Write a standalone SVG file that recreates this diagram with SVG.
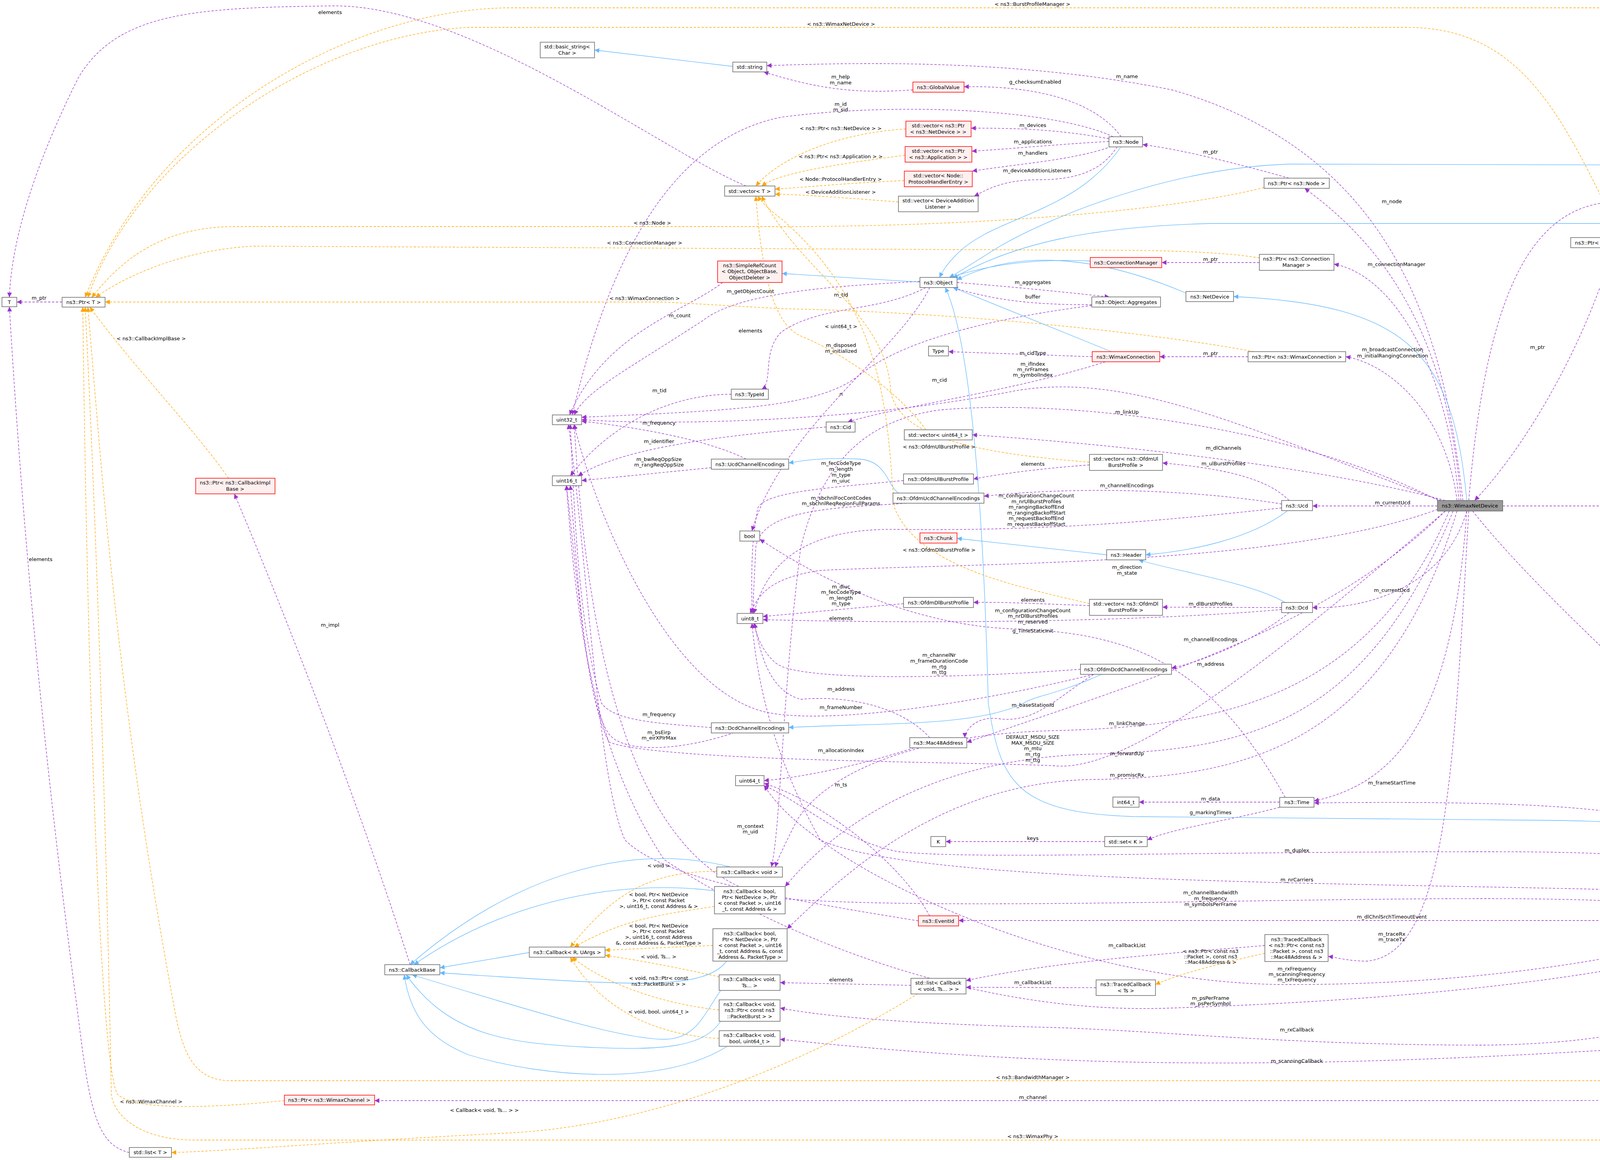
<svg xmlns="http://www.w3.org/2000/svg" width="4955" height="2969" viewBox="0 0 4955 2969">
<style>
.n rect{fill:#fff;stroke:#666;stroke-width:1.5}
.r rect{fill:#fff0f0;stroke:#f00;stroke-width:1.5}
.g rect{fill:#999;stroke:#666;stroke-width:1.5}
text{font-family:"DejaVu Sans","Liberation Sans",sans-serif;font-size:13px;fill:#000;text-anchor:middle}
.p{fill:none;stroke:#9a32cd;stroke-width:1.3;stroke-dasharray:6,4;marker-end:url(#ap)}
.o{fill:none;stroke:#ffa500;stroke-width:1.3;stroke-dasharray:6,4;marker-end:url(#ao)}
.b{fill:none;stroke:#63b8ff;stroke-width:1.3;marker-end:url(#ab)}
</style>
<defs>
<marker id="ap" viewBox="0 0 10 10" refX="10" refY="5" markerWidth="14" markerHeight="12" markerUnits="userSpaceOnUse" orient="auto"><path d="M0,0L10,5L0,10z" fill="#9a32cd"/></marker>
<marker id="ao" viewBox="0 0 10 10" refX="10" refY="5" markerWidth="14" markerHeight="12" markerUnits="userSpaceOnUse" orient="auto"><path d="M0,0L10,5L0,10z" fill="#ffa500"/></marker>
<marker id="ab" viewBox="0 0 10 10" refX="10" refY="5" markerWidth="14" markerHeight="12" markerUnits="userSpaceOnUse" orient="auto"><path d="M0,0L10,5L0,10z" fill="#63b8ff"/></marker>
</defs>
<rect width="4955" height="2969" fill="#fff"/>
<g id="edges">
<path class="p" d="M159,773L43,773"/>
<path class="p" d="M1910,476C1700,390 1200,10 850,15C500,20 300,30 200,200C100,400 30,600 24,761"/>
<path class="p" d="M331,2950C250,2930 230,2850 200,2600C120,2000 60,1400 24,785"/>
<path class="p" d="M2337,230C2200,240 2100,230 1955,184"/>
<path class="p" d="M2870,350C2820,280 2700,218 2468,222"/>
<path class="p" d="M3745,1281C3700,900 3600,400 3000,230C2600,150 2200,160 1963,168"/>
<path class="p" d="M2839,355C2700,330 2600,328 2486,328"/>
<path class="p" d="M2839,362C2700,370 2600,380 2488,387"/>
<path class="p" d="M2845,375C2750,410 2600,420 2489,438"/>
<path class="p" d="M2860,375C2820,440 2750,460 2660,460C2560,460 2520,490 2494,502"/>
<path class="p" d="M2850,350C2700,280 2300,260 2000,300C1700,360 1550,700 1465,1062"/>
<path class="p" d="M3300,456C3100,400 3000,380 2925,370"/>
<path class="p" d="M3740,1281C3700,800 3500,600 3340,482"/>
<path class="p" d="M3735,1281C3700,900 3550,700 3415,676"/>
<path class="p" d="M3224,672L2974,672"/>
<path class="p" d="M3730,1281C3700,1050 3550,930 3445,913"/>
<path class="p" d="M3195,913L2969,913"/>
<path class="p" d="M3760,1281C3800,800 3900,550 4100,520C4400,480 4600,440 4752,424"/>
<path class="p" d="M4752,424L4656,424"/>
<path class="p" d="M4545,436C4500,520 4350,590 4215,608"/>
<path class="p" d="M4475,646C4400,640 4330,625 4268,621"/>
<path class="p" d="M4130,634C4050,900 3900,1150 3775,1281"/>
<path class="p" d="M4540,2342C4500,1800 4300,900 4155,634"/>
<path class="p" d="M3847,1295L4754,1295"/>
<path class="p" d="M4835,1275C4800,1000 4650,800 4575,662"/>
<path class="p" d="M3680,1295L3360,1295"/>
<path class="p" d="M3755,1308C3700,1500 3500,1560 3360,1555"/>
<path class="p" d="M3770,1308C4000,1600 4600,2100 4830,2342"/>
<path class="p" d="M4746,2355L4626,2355"/>
<path class="p" d="M3300,1281C3250,1230 3150,1200 2976,1185"/>
<path class="p" d="M3700,1281C3400,1200 2900,1140 2489,1113"/>
<path class="p" d="M3281,1290C3100,1260 2800,1240 2519,1270"/>
<path class="p" d="M3281,1300C3000,1330 2700,1360 2300,1355C2050,1350 1960,1450 1930,1570"/>
<path class="p" d="M3700,1285C3200,1100 2900,950 2600,1000C2200,1080 1700,1090 1489,1074"/>
<path class="p" d="M2796,913L2428,900"/>
<path class="p" d="M2830,926C2600,1000 2300,1040 2170,1080"/>
<path class="p" d="M2450,723C2600,735 2700,745 2840,760"/>
<path class="p" d="M2795,780C2650,780 2550,770 2440,736"/>
<path class="p" d="M2795,782C2500,820 2300,880 2200,960C2100,1040 1900,1050 1489,1068"/>
<path class="p" d="M2370,736C2250,800 2100,780 2000,850C1950,900 1980,980 1950,996"/>
<path class="p" d="M2380,736C2300,900 2000,1100 1925,1359"/>
<path class="p" d="M1850,723C1750,800 1550,850 1458,1062"/>
<path class="p" d="M2355,720C2200,730 1900,740 1800,820C1600,950 1500,1000 1470,1062"/>
<path class="p" d="M1872,1009C1700,1010 1550,1100 1460,1218"/>
<path class="p" d="M1910,1175C1800,1120 1600,1090 1489,1078"/>
<path class="p" d="M2115,1093C1900,1110 1600,1140 1480,1218"/>
<path class="p" d="M1821,1197L1489,1230"/>
<path class="p" d="M2789,1190C2650,1200 2550,1215 2492,1226"/>
<path class="p" d="M2313,1230C2100,1250 1960,1260 1940,1300C1920,1400 1925,1500 1925,1570"/>
<path class="p" d="M2320,1288C2150,1300 1950,1300 1935,1400C1930,1500 1928,1530 1928,1570"/>
<path class="p" d="M3690,1300C3300,1450 2500,1440 2100,1460C1960,1480 1940,1530 1920,1570"/>
<path class="p" d="M3281,1555L2976,1554"/>
<path class="p" d="M2789,1550C2650,1545 2550,1540 2492,1542"/>
<path class="p" d="M2313,1545L1953,1578"/>
<path class="p" d="M3281,1560C3000,1585 2500,1600 1953,1586"/>
<path class="p" d="M3290,2041C3100,1700 2900,1620 2600,1610C2300,1600 2050,1450 1945,1380"/>
<path class="p" d="M3300,1568C3200,1650 3050,1700 2999,1710"/>
<path class="p" d="M2766,1713C2400,1740 2050,1740 1990,1700C1950,1670 1935,1620 1930,1595"/>
<path class="p" d="M2800,1726C2500,1800 2100,1860 1950,1820C1700,1750 1520,1300 1470,1086"/>
<path class="p" d="M2800,1726C2700,1790 2650,1850 2560,1840C2500,1830 2470,1870 2470,1888"/>
<path class="p" d="M3700,1308C3400,1600 3000,1720 2475,1900"/>
<path class="p" d="M2380,1888C2300,1800 2150,1780 2050,1790C1980,1770 1950,1700 1932,1595"/>
<path class="p" d="M1821,1862C1650,1850 1570,1840 1540,1800C1480,1600 1470,1300 1460,1086"/>
<path class="p" d="M1880,1875C1750,1920 1600,1930 1560,1880C1500,1800 1480,1500 1460,1242"/>
<path class="p" d="M3700,1308C3300,1650 2900,1980 2700,1960C2500,1950 1700,1950 1560,1900C1500,1800 1470,1400 1450,1242"/>
<path class="p" d="M2340,1914C2200,1960 2050,1990 1956,1998"/>
<path class="p" d="M2380,2344C2300,2200 2100,2050 1956,2005"/>
<path class="p" d="M2351,2357C2000,2300 1700,2250 1600,2150C1530,2000 1500,1400 1455,1086"/>
<path class="p" d="M3700,1290C3300,1080 2700,1020 2400,1050C2200,1080 2100,1200 2050,1400C2000,1800 2000,2100 1975,2219"/>
<path class="p" d="M3710,1308C3500,1800 3100,1860 2700,1870C2300,1880 2100,2000 2040,2100C2010,2160 1990,2200 1985,2219"/>
<path class="p" d="M3720,1308C3500,1850 3200,1920 2800,1930C2400,1940 2150,2100 2010,2269"/>
<path class="p" d="M3730,1308C3550,1900 3200,1990 2800,1995C2400,2000 2150,2250 2015,2377"/>
<path class="p" d="M3755,1308C3720,1800 3600,2000 3364,2050"/>
<path class="p" d="M4540,2342C4450,2100 4300,2045 3364,2055"/>
<path class="p" d="M3276,2053L2916,2053"/>
<path class="p" d="M3276,2066C3150,2100 3000,2120 2937,2150"/>
<path class="p" d="M2828,2154L2421,2154"/>
<path class="p" d="M4520,2342C4400,2200 4300,2180 3800,2180C3000,2180 2500,2200 2300,2180C2150,2150 2050,2050 1956,2011"/>
<path class="p" d="M4520,2342C4450,2280 4300,2280 3800,2270C3000,2255 2300,2240 2100,2150C1960,1900 1935,1700 1925,1595"/>
<path class="p" d="M4502,2350C4400,2320 4200,2300 3800,2300C3200,2300 2400,2330 2000,2300C1600,2250 1500,1600 1470,1086"/>
<path class="p" d="M4502,2356L2454,2356"/>
<path class="p" d="M3760,1308C3720,2000 3700,2440 3500,2460C3450,2460 3420,2450 3400,2448"/>
<path class="p" d="M4502,2362C4300,2420 3900,2520 3300,2520C2800,2520 2300,2300 2100,2150C2000,2080 1970,2030 1956,2011"/>
<path class="p" d="M4530,2367C4400,2450 3900,2550 3000,2580C2500,2600 2000,2400 1700,2200C1500,1900 1470,1500 1450,1242"/>
<path class="p" d="M4560,2367C4500,2550 4300,2670 3800,2675C3300,2675 3000,2640 2700,2630C2300,2620 2100,2600 1997,2580"/>
<path class="p" d="M4570,2367C4550,2600 4400,2670 4250,2680C3900,2700 3500,2725 3000,2720C2500,2715 2100,2670 1997,2660"/>
<path class="p" d="M4590,2367C4560,2650 4400,2800 4185,2775"/>
<path class="p" d="M4580,2367C4560,2700 4450,2850 4300,2820C4200,2815 4100,2817 3900,2817L959,2817"/>
<path class="p" d="M2806,2528L2473,2527"/>
<path class="p" d="M3238,2420C3000,2440 2700,2460 2473,2510"/>
<path class="p" d="M2332,2522L1997,2515"/>
<path class="p" d="M1050,2469C900,2000 700,1500 600,1264"/>
<path class="o" d="M4848,404C4830,200 4800,20 4600,20L1300,20C900,25 400,300 218,761"/>
<path class="o" d="M4150,608C4000,300 3900,70 3600,70L1200,70C800,90 350,400 225,761"/>
<path class="o" d="M3236,480C3000,540 2500,580 2000,580L600,580C400,580 300,680 235,761"/>
<path class="o" d="M3224,660C3100,640 2900,640 2700,640L650,630C450,640 300,720 245,761"/>
<path class="o" d="M3210,900C3000,860 2500,800 2000,790L1700,773L269,773"/>
<path class="o" d="M585,1224C500,1100 350,950 230,786"/>
<path class="o" d="M728,2817C600,2830 350,2850 300,2800C250,2700 220,1500 212,786"/>
<path class="o" d="M4830,1315C4700,1800 4500,2700 4300,2766L590,2766C500,2766 470,2700 450,2600C300,1800 260,1200 225,786"/>
<path class="o" d="M4845,2367C4830,2600 4760,2918 4580,2918L500,2918C350,2918 290,2850 285,2800C270,2000 240,1200 218,786"/>
<path class="o" d="M2319,330C2150,340 2000,400 1935,476"/>
<path class="o" d="M2317,397C2150,420 2000,440 1950,476"/>
<path class="o" d="M2315,462C2150,470 2050,480 1984,484"/>
<path class="o" d="M2300,517C2150,505 2050,498 1984,497"/>
<path class="o" d="M2370,1100C2300,1000 2150,900 2050,860C1980,830 1950,700 1935,502"/>
<path class="o" d="M2789,1183C2500,1160 2300,1120 2280,1000C2270,800 2050,700 1950,502"/>
<path class="o" d="M2789,1545C2600,1500 2350,1450 2290,1300C2270,1100 2280,800 2000,560C1960,530 1945,510 1940,502"/>
<path class="o" d="M2350,2543C2100,2700 1700,2880 1300,2900C900,2920 600,2945 439,2950"/>
<path class="o" d="M3238,2440C3100,2470 3000,2500 2958,2520"/>
<path class="o" d="M1835,2230C1650,2230 1560,2300 1460,2424"/>
<path class="o" d="M1829,2320C1700,2340 1600,2350 1470,2424"/>
<path class="o" d="M1825,2420C1700,2425 1600,2430 1549,2432"/>
<path class="o" d="M1841,2500C1750,2480 1650,2460 1549,2445"/>
<path class="o" d="M1841,2585C1700,2570 1550,2520 1465,2450"/>
<path class="o" d="M1841,2658C1700,2650 1550,2600 1460,2450"/>
<path class="b" d="M1876,170L1522,128"/>
<path class="b" d="M2870,375C2750,550 2550,550 2450,650C2420,680 2410,700 2405,710"/>
<path class="b" d="M2791,668C2600,660 2500,690 2430,710"/>
<path class="b" d="M2845,900L2440,736"/>
<path class="b" d="M4473,423C3800,418 3500,418 3300,420C3000,430 2700,550 2560,630C2480,680 2450,700 2430,710"/>
<path class="b" d="M4540,636C4480,600 4400,572 4200,572L3100,572C2800,580 2600,620 2440,712"/>
<path class="b" d="M3036,750C2800,650 2600,640 2450,716"/>
<path class="b" d="M2355,722L2002,700"/>
<path class="b" d="M2833,1420L2450,1378"/>
<path class="b" d="M3295,1308C3200,1380 3050,1410 2933,1420"/>
<path class="b" d="M3290,1542C3200,1490 3000,1460 2915,1433"/>
<path class="b" d="M2300,1262C2270,1240 2270,1180 2200,1175C2100,1170 2050,1180 2019,1185"/>
<path class="b" d="M2820,1726C2700,1780 2650,1780 2620,1800C2500,1860 2250,1850 2019,1862"/>
<path class="b" d="M3755,1281C3720,900 3600,780 3158,759"/>
<path class="b" d="M4560,2342C4500,2120 4400,2110 4000,2100L2900,2090C2600,2080 2560,2000 2530,1800C2510,1000 2450,800 2420,736"/>
<path class="b" d="M1355,2438L1126,2477"/>
<path class="b" d="M1870,2219C1600,2150 1300,2250 1050,2469"/>
<path class="b" d="M1829,2280C1600,2250 1300,2300 1060,2469"/>
<path class="b" d="M1860,2460C1800,2540 1600,2520 1126,2490"/>
<path class="b" d="M1845,2535C1800,2600 1780,2660 1700,2660C1600,2660 1400,2600 1055,2495"/>
<path class="b" d="M1845,2614C1800,2680 1700,2690 1500,2680C1300,2670 1150,2650 1040,2495"/>
<path class="b" d="M1860,2679C1700,2780 1400,2760 1200,2700C1100,2660 1050,2600 1035,2495"/>
</g>
<g id="labels">
<text x="100" y="767">m_ptr</text>
<text x="845" y="36">elements</text>
<text x="104" y="1436">elements</text>
<text x="2152" y="201">m_help</text><text x="2152" y="216">m_name</text>
<text x="2650" y="214">g_checksumEnabled</text>
<text x="2885" y="200">m_name</text>
<text x="2152" y="271">m_id</text><text x="2152" y="285">m_sid</text>
<text x="2644" y="325">m_devices</text>
<text x="2644" y="367">m_applications</text>
<text x="2644" y="396">m_handlers</text>
<text x="2655" y="441">m_deviceAdditionListeners</text>
<text x="3099" y="393">m_ptr</text>
<text x="3563" y="520">m_node</text>
<text x="4373" y="478">m_burstProfileManager</text>
<text x="4373" y="521">m_device</text>
<text x="4704" y="419">m_ptr</text>
<text x="4373" y="621">m_device</text>
<text x="3575" y="681">m_connectionManager</text>
<text x="3099" y="668">m_ptr</text>
<text x="3565" y="899">m_broadcastConnection</text><text x="3565" y="915">m_initialRangingConnection</text>
<text x="3099" y="909">m_ptr</text>
<text x="3936" y="893">m_ptr</text>
<text x="4373" y="890">m_device</text>
<text x="4704" y="909">m_ptr</text>
<text x="3132" y="1151">m_dlChannels</text>
<text x="3132" y="1191">m_ulBurstProfiles</text>
<text x="3565" y="1291">m_currentUcd</text>
<text x="4373" y="1291">m_bandwidthManager</text>
<text x="3563" y="1515">m_currentDcd</text>
<text x="3099" y="1550">m_dlBurstProfiles</text>
<text x="3099" y="1641">m_channelEncodings</text>
<text x="3099" y="1704">m_address</text>
<text x="4373" y="1808">m_phy</text>
<text x="3563" y="2008">m_frameStartTime</text>
<text x="4248" y="2011">m_frameDuration</text><text x="4248" y="2025">m_psDuration</text><text x="4248" y="2040">m_symbolDuration</text>
<text x="3099" y="2049">m_data</text>
<text x="3099" y="2084">g_markingTimes</text>
<text x="3320" y="2181">m_duplex</text>
<text x="3320" y="2256">m_nrCarriers</text>
<text x="3099" y="2289">m_channelBandwidth</text><text x="3099" y="2304">m_frequency</text><text x="3099" y="2319">m_symbolsPerFrame</text>
<text x="3563" y="2351">m_dlChnlSrchTimeoutEvent</text>
<text x="4704" y="2351">m_ptr</text>
<text x="3563" y="2395">m_traceRx</text><text x="3563" y="2409">m_traceTx</text>
<text x="3099" y="2439">&lt; ns3::Ptr&lt; const ns3</text><text x="3099" y="2453">::Packet &gt;, const ns3</text><text x="3099" y="2467">::Mac48Address &amp; &gt;</text>
<text x="3320" y="2484">m_rxFrequency</text><text x="3320" y="2498">m_scanningFrequency</text><text x="3320" y="2512">m_txFrequency</text>
<text x="3099" y="2559">m_psPerFrame</text><text x="3099" y="2573">m_psPerSymbol</text>
<text x="3320" y="2640">m_rxCallback</text>
<text x="3320" y="2720">m_scanningCallback</text>
<text x="4373" y="2745">m_state</text>
<text x="2644" y="2813">m_channel</text>
<text x="2643" y="15">&lt; ns3::BurstProfileManager &gt;</text>
<text x="2153" y="66">&lt; ns3::WimaxNetDevice &gt;</text>
<text x="1670" y="575">&lt; ns3::Node &gt;</text>
<text x="1650" y="626">&lt; ns3::ConnectionManager &gt;</text>
<text x="1650" y="768">&lt; ns3::WimaxConnection &gt;</text>
<text x="387" y="871">&lt; ns3::CallbackImplBase &gt;</text>
<text x="387" y="2824">&lt; ns3::WimaxChannel &gt;</text>
<text x="2644" y="2762">&lt; ns3::BandwidthManager &gt;</text>
<text x="2644" y="2913">&lt; ns3::WimaxPhy &gt;</text>
<text x="1240" y="2846">&lt; Callback&lt; void, Ts... &gt; &gt;</text>
<text x="2152" y="333">&lt; ns3::Ptr&lt; ns3::NetDevice &gt; &gt;</text>
<text x="2152" y="405">&lt; ns3::Ptr&lt; ns3::Application &gt; &gt;</text>
<text x="2152" y="463">&lt; Node::ProtocolHandlerEntry &gt;</text>
<text x="2152" y="496">&lt; DeviceAdditionListener &gt;</text>
<text x="2153" y="840">&lt; uint64_t &gt;</text>
<text x="2404" y="1148">&lt; ns3::OfdmUlBurstProfile &gt;</text>
<text x="2404" y="1412">&lt; ns3::OfdmDlBurstProfile &gt;</text>
<text x="1921" y="750">m_getObjectCount</text>
<text x="2153" y="759">m_tid</text>
<text x="1740" y="812">m_count</text>
<text x="1921" y="851">elements</text>
<text x="2153" y="888">m_disposed</text><text x="2153" y="903">m_initialized</text>
<text x="2644" y="727">m_aggregates</text>
<text x="2644" y="764">buffer</text>
<text x="2644" y="908">m_cidType</text>
<text x="2644" y="936">m_ifIndex</text><text x="2644" y="950">m_nrFrames</text><text x="2644" y="964">m_symbolIndex</text>
<text x="2405" y="977">m_cid</text>
<text x="2153" y="1013">n</text>
<text x="2885" y="1059">m_linkUp</text>
<text x="1688" y="1004">m_tid</text>
<text x="1687" y="1087">m_frequency</text>
<text x="1687" y="1134">m_identifier</text>
<text x="1687" y="1180">m_bwReqOppSize</text><text x="1687" y="1194">m_rangReqOppSize</text>
<text x="2644" y="1192">elements</text>
<text x="2153" y="1190">m_fecCodeType</text><text x="2153" y="1205">m_length</text><text x="2153" y="1220">m_type</text><text x="2153" y="1235">m_uiuc</text>
<text x="2153" y="1279">m_sbchnlFocContCodes</text><text x="2153" y="1293">m_sbchnlReqRegionFullParams</text>
<text x="2885" y="1247">m_channelEncodings</text>
<text x="2653" y="1273">m_configurationChangeCount</text><text x="2653" y="1288">m_nrUlBurstProfiles</text><text x="2653" y="1302">m_rangingBackoffEnd</text><text x="2653" y="1317">m_rangingBackoffStart</text><text x="2653" y="1331">m_requestBackoffEnd</text><text x="2653" y="1346">m_requestBackoffStart</text>
<text x="2885" y="1456">m_direction</text><text x="2885" y="1471">m_state</text>
<text x="2153" y="1506">m_diuc</text><text x="2153" y="1520">m_fecCodeType</text><text x="2153" y="1535">m_length</text><text x="2153" y="1549">m_type</text>
<text x="2644" y="1540">elements</text>
<text x="2644" y="1567">m_configurationChangeCount</text><text x="2644" y="1581">m_nrDlBurstProfiles</text><text x="2644" y="1596">m_reserved</text>
<text x="2153" y="1587">elements</text>
<text x="2644" y="1619">g_TimeStaticInit</text>
<text x="2404" y="1681">m_channelNr</text><text x="2404" y="1696">m_frameDurationCode</text><text x="2404" y="1711">m_rtg</text><text x="2404" y="1725">m_ttg</text>
<text x="2153" y="1768">m_address</text>
<text x="2153" y="1815">m_frameNumber</text>
<text x="2644" y="1809">m_baseStationId</text>
<text x="2885" y="1856">m_linkChange</text>
<text x="1687" y="1833">m_frequency</text>
<text x="1687" y="1879">m_bsEirp</text><text x="1687" y="1893">m_eirXPIrMax</text>
<text x="2644" y="1891">DEFAULT_MSDU_SIZE</text><text x="2644" y="1906">MAX_MSDU_SIZE</text><text x="2644" y="1920">m_mtu</text><text x="2644" y="1935">m_rtg</text><text x="2644" y="1950">m_ttg</text>
<text x="2153" y="1925">m_allocationIndex</text>
<text x="2885" y="1933">m_forwardUp</text>
<text x="2885" y="1988">m_promiscRx</text>
<text x="2153" y="2013">m_ts</text>
<text x="1921" y="2119">m_context</text><text x="1921" y="2133">m_uid</text>
<text x="2644" y="2150">keys</text>
<text x="845" y="1604">m_impl</text>
<text x="1686" y="2220">&lt; void &gt;</text>
<text x="1686" y="2294">&lt; bool, Ptr&lt; NetDevice</text><text x="1686" y="2309">&gt;, Ptr&lt; const Packet</text><text x="1686" y="2324">&gt;, uint16_t, const Address &amp; &gt;</text>
<text x="1686" y="2374">&lt; bool, Ptr&lt; NetDevice</text><text x="1686" y="2388">&gt;, Ptr&lt; const Packet</text><text x="1686" y="2403">&gt;, uint16_t, const Address</text><text x="1686" y="2418">&amp;, const Address &amp;, PacketType &gt;</text>
<text x="1686" y="2453">&lt; void, Ts... &gt;</text>
<text x="1686" y="2508">&lt; void, ns3::Ptr&lt; const</text><text x="1686" y="2523">ns3::PacketBurst &gt; &gt;</text>
<text x="1686" y="2594">&lt; void, bool, uint64_t &gt;</text>
<text x="2153" y="2512">elements</text>
<text x="2644" y="2519">m_callbackList</text>
<text x="2885" y="2424">m_callbackList</text>
</g>
<g id="n_T" class="n"><rect x="5" y="761" width="38" height="24"/><text x="24" y="778">T</text></g>
<g id="n_PtrT" class="n"><rect x="159" y="761" width="110" height="25"/><text x="214" y="778">ns3::Ptr&lt; T &gt;</text></g>
<g id="n_basicstr" class="n"><rect x="1383" y="108" width="139" height="40"/><text x="1452" y="124">std::basic_string&lt;</text><text x="1452" y="140">Char &gt;</text></g>
<g id="n_string" class="n"><rect x="1876" y="159" width="87" height="25"/><text x="1919" y="176">std::string</text></g>
<g id="n_GlobalValue" class="r"><rect x="2337" y="210" width="131" height="26"/><text x="2402" y="228">ns3::GlobalValue</text></g>
<g id="n_Node" class="n"><rect x="2839" y="350" width="86" height="26"/><text x="2882" y="368">ns3::Node</text></g>
<g id="n_vecNetDev" class="r"><rect x="2319" y="310" width="167" height="40"/><text x="2402" y="326">std::vector&lt; ns3::Ptr</text><text x="2402" y="342">&lt; ns3::NetDevice &gt; &gt;</text></g>
<g id="n_vecApp" class="r"><rect x="2317" y="375" width="171" height="40"/><text x="2402" y="391">std::vector&lt; ns3::Ptr</text><text x="2402" y="407">&lt; ns3::Application &gt; &gt;</text></g>
<g id="n_vecPHE" class="r"><rect x="2315" y="438" width="174" height="40"/><text x="2402" y="454">std::vector&lt; Node::</text><text x="2402" y="470">ProtocolHandlerEntry &gt;</text></g>
<g id="n_vecDAL" class="n"><rect x="2300" y="502" width="204" height="40"/><text x="2402" y="518">std::vector&lt; DeviceAddition</text><text x="2402" y="534">Listener &gt;</text></g>
<g id="n_vecT" class="n"><rect x="1855" y="476" width="129" height="26"/><text x="1919" y="494">std::vector&lt; T &gt;</text></g>
<g id="n_SimpleRefCount" class="r"><rect x="1837" y="668" width="165" height="55"/><text x="1919" y="684">ns3::SimpleRefCount</text><text x="1919" y="699">&lt; Object, ObjectBase,</text><text x="1919" y="715">ObjectDeleter &gt;</text></g>
<g id="n_ConnectionManager" class="r"><rect x="2791" y="659" width="183" height="26"/><text x="2882" y="677">ns3::ConnectionManager</text></g>
<g id="n_Object" class="n"><rect x="2355" y="710" width="95" height="26"/><text x="2402" y="728">ns3::Object</text></g>
<g id="n_Aggregates" class="n"><rect x="2795" y="760" width="176" height="26"/><text x="2883" y="778">ns3::Object::Aggregates</text></g>
<g id="n_Type" class="n"><rect x="2377" y="886" width="51" height="25"/><text x="2402" y="903">Type</text></g>
<g id="n_WimaxConnection" class="r"><rect x="2796" y="900" width="173" height="26"/><text x="2882" y="918">ns3::WimaxConnection</text></g>
<g id="n_TypeId" class="n"><rect x="1872" y="996" width="95" height="26"/><text x="1919" y="1014">ns3::TypeId</text></g>
<g id="n_Cid" class="n"><rect x="2115" y="1080" width="74" height="26"/><text x="2152" y="1098">ns3::Cid</text></g>
<g id="n_vecU64" class="n"><rect x="2315" y="1100" width="174" height="26"/><text x="2402" y="1118">std::vector&lt; uint64_t &gt;</text></g>
<g id="n_UcdCE" class="n"><rect x="1821" y="1175" width="198" height="26"/><text x="1920" y="1193">ns3::UcdChannelEncodings</text></g>
<g id="n_vecUl" class="n"><rect x="2789" y="1163" width="187" height="41"/><text x="2882" y="1179">std::vector&lt; ns3::OfdmUl</text><text x="2882" y="1195">BurstProfile &gt;</text></g>
<g id="n_OfdmUl" class="n"><rect x="2313" y="1213" width="179" height="26"/><text x="2402" y="1231">ns3::OfdmUlBurstProfile</text></g>
<g id="n_OfdmUcd" class="n"><rect x="2286" y="1262" width="233" height="26"/><text x="2402" y="1280">ns3::OfdmUcdChannelEncodings</text></g>
<g id="n_bool" class="n"><rect x="1894" y="1359" width="51" height="26"/><text x="1919" y="1377">bool</text></g>
<g id="n_Chunk" class="r"><rect x="2355" y="1364" width="95" height="26"/><text x="2402" y="1382">ns3::Chunk</text></g>
<g id="n_Header" class="n"><rect x="2833" y="1407" width="100" height="26"/><text x="2883" y="1425">ns3::Header</text></g>
<g id="n_OfdmDl" class="n"><rect x="2313" y="1529" width="179" height="26"/><text x="2402" y="1547">ns3::OfdmDlBurstProfile</text></g>
<g id="n_vecDl" class="n"><rect x="2789" y="1534" width="187" height="41"/><text x="2882" y="1550">std::vector&lt; ns3::OfdmDl</text><text x="2882" y="1566">BurstProfile &gt;</text></g>
<g id="n_uint8" class="n"><rect x="1887" y="1570" width="66" height="26"/><text x="1920" y="1588">uint8_t</text></g>
<g id="n_OfdmDcd" class="n"><rect x="2766" y="1700" width="233" height="26"/><text x="2882" y="1718">ns3::OfdmDcdChannelEncodings</text></g>
<g id="n_DcdCE" class="n"><rect x="1821" y="1850" width="198" height="26"/><text x="1920" y="1868">ns3::DcdChannelEncodings</text></g>
<g id="n_Mac48" class="n"><rect x="2329" y="1888" width="146" height="26"/><text x="2402" y="1906">ns3::Mac48Address</text></g>
<g id="n_uint64" class="n"><rect x="1883" y="1985" width="73" height="26"/><text x="1919" y="2003">uint64_t</text></g>
<g id="n_int64" class="n"><rect x="2849" y="2040" width="67" height="26"/><text x="2882" y="2058">int64_t</text></g>
<g id="n_K" class="n"><rect x="2383" y="2141" width="38" height="26"/><text x="2402" y="2159">K</text></g>
<g id="n_setK" class="n"><rect x="2828" y="2141" width="109" height="26"/><text x="2882" y="2159">std::set&lt; K &gt;</text></g>
<g id="n_uint32" class="n"><rect x="1414" y="1062" width="75" height="25"/><text x="1451" y="1079">uint32_t</text></g>
<g id="n_uint16" class="n"><rect x="1414" y="1218" width="75" height="25"/><text x="1451" y="1235">uint16_t</text></g>
<g id="n_PtrCIB" class="r"><rect x="501" y="1224" width="203" height="40"/><text x="602" y="1240">ns3::Ptr&lt; ns3::CallbackImpl</text><text x="602" y="1256">Base &gt;</text></g>
<g id="n_CallbackBase" class="n"><rect x="985" y="2469" width="141" height="26"/><text x="1055" y="2487">ns3::CallbackBase</text></g>
<g id="n_CallbackR" class="n"><rect x="1355" y="2424" width="194" height="26"/><text x="1452" y="2442">ns3::Callback&lt; R, UArgs &gt;</text></g>
<g id="n_PtrWC" class="r"><rect x="728" y="2803" width="231" height="25"/><text x="843" y="2820">ns3::Ptr&lt; ns3::WimaxChannel &gt;</text></g>
<g id="n_listT" class="n"><rect x="331" y="2937" width="108" height="25"/><text x="385" y="2954">std::list&lt; T &gt;</text></g>
<g id="n_Cbvoid" class="n"><rect x="1835" y="2219" width="168" height="26"/><text x="1919" y="2237">ns3::Callback&lt; void &gt;</text></g>
<g id="n_CbBool1" class="n"><rect x="1829" y="2269" width="181" height="70"/><text x="1919" y="2286">ns3::Callback&lt; bool,</text><text x="1919" y="2301">Ptr&lt; NetDevice &gt;, Ptr</text><text x="1919" y="2316">&lt; const Packet &gt;, uint16</text><text x="1919" y="2331">_t, const Address &amp; &gt;</text></g>
<g id="n_CbBool2" class="n"><rect x="1825" y="2377" width="190" height="83"/><text x="1920" y="2394">ns3::Callback&lt; bool,</text><text x="1920" y="2409">Ptr&lt; NetDevice &gt;, Ptr</text><text x="1920" y="2424">&lt; const Packet &gt;, uint16</text><text x="1920" y="2439">_t, const Address &amp;, const</text><text x="1920" y="2454">Address &amp;, PacketType &gt;</text></g>
<g id="n_CbTs" class="n"><rect x="1841" y="2495" width="156" height="40"/><text x="1919" y="2511">ns3::Callback&lt; void,</text><text x="1919" y="2527">Ts... &gt;</text></g>
<g id="n_CbPB" class="n"><rect x="1841" y="2559" width="156" height="55"/><text x="1919" y="2575">ns3::Callback&lt; void,</text><text x="1919" y="2590">ns3::Ptr&lt; const ns3</text><text x="1919" y="2606">::PacketBurst &gt; &gt;</text></g>
<g id="n_CbBU" class="n"><rect x="1841" y="2638" width="156" height="40"/><text x="1919" y="2654">ns3::Callback&lt; void,</text><text x="1919" y="2670">bool, uint64_t &gt;</text></g>
<g id="n_EventId" class="r"><rect x="2351" y="2344" width="103" height="26"/><text x="2402" y="2362">ns3::EventId</text></g>
<g id="n_listCb" class="n"><rect x="2332" y="2504" width="141" height="40"/><text x="2402" y="2520">std::list&lt; Callback</text><text x="2402" y="2536">&lt; void, Ts... &gt; &gt;</text></g>
<g id="n_TCTs" class="n"><rect x="2806" y="2508" width="152" height="40"/><text x="2882" y="2524">ns3::TracedCallback</text><text x="2882" y="2540">&lt; Ts &gt;</text></g>
<g id="n_PtrNode" class="n"><rect x="3236" y="456" width="167" height="26"/><text x="3319" y="474">ns3::Ptr&lt; ns3::Node &gt;</text></g>
<g id="n_BPM" class="n"><rect x="4473" y="411" width="183" height="26"/><text x="4564" y="429">ns3::BurstProfileManager</text></g>
<g id="n_PtrBPM" class="n"><rect x="4752" y="404" width="191" height="40"/><text x="4847" y="420">ns3::Ptr&lt; ns3::BurstProfile</text><text x="4847" y="436">Manager &gt;</text></g>
<g id="n_PtrWND" class="n"><rect x="4021" y="608" width="247" height="26"/><text x="4144" y="626">ns3::Ptr&lt; ns3::WimaxNetDevice &gt;</text></g>
<g id="n_BWM" class="n"><rect x="4475" y="636" width="178" height="26"/><text x="4564" y="654">ns3::BandwidthManager</text></g>
<g id="n_PtrCM" class="n"><rect x="3224" y="651" width="191" height="41"/><text x="3319" y="667">ns3::Ptr&lt; ns3::Connection</text><text x="3319" y="683">Manager &gt;</text></g>
<g id="n_NetDevice" class="n"><rect x="3036" y="746" width="122" height="26"/><text x="3097" y="764">ns3::NetDevice</text></g>
<g id="n_PtrWCn" class="n"><rect x="3195" y="900" width="250" height="26"/><text x="3320" y="918">ns3::Ptr&lt; ns3::WimaxConnection &gt;</text></g>
<g id="n_Ucd" class="n"><rect x="3281" y="1281" width="79" height="26"/><text x="3320" y="1299">ns3::Ucd</text></g>
<g id="n_WND" class="g"><rect x="3680" y="1281" width="167" height="27"/><text x="3763" y="1299">ns3::WimaxNetDevice</text></g>
<g id="n_PtrBWM" class="n"><rect x="4754" y="1275" width="187" height="40"/><text x="4847" y="1291">ns3::Ptr&lt; ns3::Bandwidth</text><text x="4847" y="1307">Manager &gt;</text></g>
<g id="n_Dcd" class="n"><rect x="3281" y="1542" width="79" height="26"/><text x="3320" y="1560">ns3::Dcd</text></g>
<g id="n_Time" class="n"><rect x="3276" y="2041" width="88" height="25"/><text x="3320" y="2058">ns3::Time</text></g>
<g id="n_TCPkt" class="n"><rect x="3238" y="2392" width="162" height="69"/><text x="3319" y="2409">ns3::TracedCallback</text><text x="3319" y="2424">&lt; ns3::Ptr&lt; const ns3</text><text x="3319" y="2439">::Packet &gt;, const ns3</text><text x="3319" y="2454">::Mac48Address &amp; &gt;</text></g>
<g id="n_WimaxPhy" class="n"><rect x="4502" y="2342" width="124" height="25"/><text x="4564" y="2359">ns3::WimaxPhy</text></g>
<g id="n_PtrWP" class="n"><rect x="4746" y="2342" width="203" height="25"/><text x="4847" y="2359">ns3::Ptr&lt; ns3::WimaxPhy &gt;</text></g>
<g id="n_PhyState" class="n"><rect x="4105" y="2753" width="80" height="26"/><text x="4145" y="2771">PhyState</text></g>
</svg>
